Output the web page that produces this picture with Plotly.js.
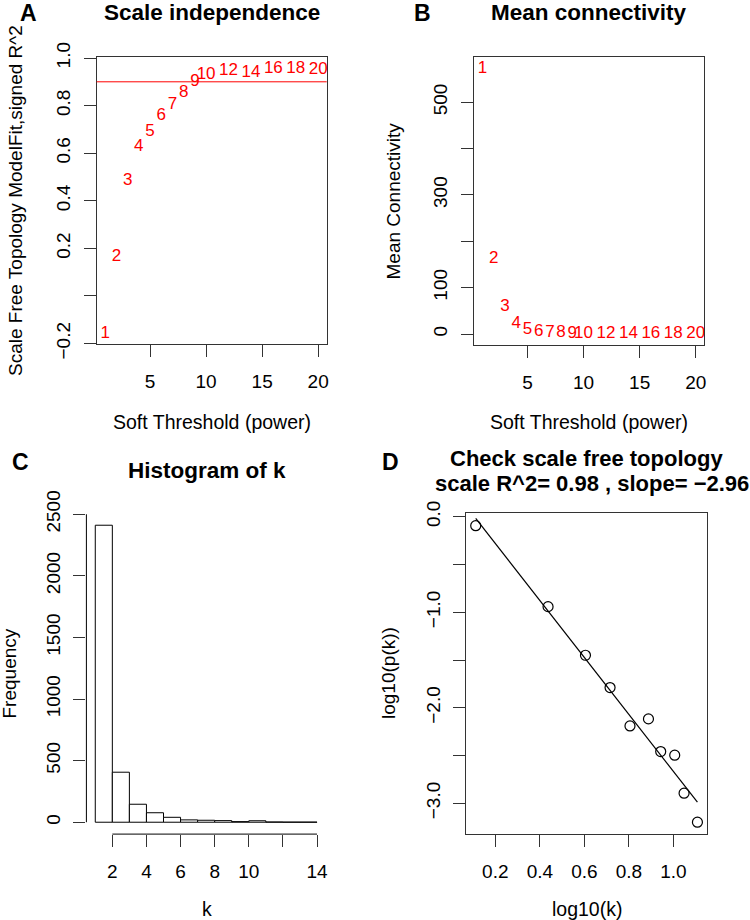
<!DOCTYPE html>
<html>
<head>
<meta charset="utf-8">
<script src="https://cdn.plot.ly/plotly-3.0.1.min.js"></script>
<style>html,body{margin:0;padding:0;background:#fff;}#chart{width:750px;height:920px;}</style>
</head>
<body>
<div id="chart"></div>
<script>
// ---- Data ----
const powers = [1, 2, 3, 4, 5, 6, 7, 8, 9, 10, 12, 14, 16, 18, 20];
const sftR2 = [-0.16, 0.166, 0.483, 0.627, 0.69, 0.757, 0.804, 0.853, 0.90, 0.931, 0.947, 0.94, 0.954, 0.957, 0.952];
const meanK = [572, 163, 59, 23, 10, 5, 3, 2, 1.2, 0.8, 0.4, 0.2, 0.1, 0.06, 0.04];
const r2Cutoff = 0.90;

const histBreaks = [1, 2, 3, 4, 5, 6, 7, 8, 9, 10, 11, 12, 13, 14];
const histCounts = [2411, 406, 146, 77, 40, 19, 16, 13, 5, 12, 2, 1, 1];

const logK = [0.112, 0.437, 0.605, 0.7155, 0.805, 0.888, 0.943, 1.006, 1.048, 1.108];
const logPk = [-0.094, -0.941, -1.45, -1.788, -2.19, -2.116, -2.458, -2.496, -2.894, -3.197];
const fitX = [0.112, 1.108];
const fitY = [-0.017, -2.988];

// tick labels
const aXTicks = [5, 10, 15, 20];
const aYTicks = [-0.2, 0, 0.2, 0.4, 0.6, 0.8, 1.0];
const aYText = ["\u22120.2", "", "0.2", "0.4", "0.6", "0.8", "1.0"];
const bYTicks = [0, 100, 200, 300, 400, 500];
const bYText = ["0", "100", "", "300", "", "500"];
const cXTicks = [2, 4, 6, 8, 10, 12, 14];
const cXText = ["2", "4", "6", "8", "10", "", "14"];
const cYTicks = [0, 500, 1000, 1500, 2000, 2500];
const dXTicks = [0.2, 0.4, 0.6, 0.8, 1.0];
const dXText = ["0.2", "0.4", "0.6", "0.8", "1.0"];
const dYTicks = [-3, -2.5, -2, -1.5, -1, -0.5, 0];
const dYText = ["\u22123.0", "", "\u22122.0", "", "\u22121.0", "", "0.0"];

// ---- Helpers ----
const W = 750, H = 920;
const FONT = "Liberation Sans, Arial, Helvetica, sans-serif";
const px = v => v / W;
const py = v => 1 - v / H;
const histMid = histCounts.map((c, i) => (histBreaks[i] + histBreaks[i + 1]) / 2);
const histW = histCounts.map((c, i) => histBreaks[i + 1] - histBreaks[i]);

function xax(domain, range, tickvals, ticktext, box, anchor) {
  return {
    domain: domain, range: range, anchor: anchor, tickmode: 'array', tickvals: tickvals,
    ticktext: ticktext || tickvals.map(String), ticks: 'outside', ticklen: 12, tickwidth: 1,
    tickcolor: '#333', showgrid: false, zeroline: false, showline: box, mirror: box,
    linecolor: '#333', linewidth: 1, ticklabelstandoff: 8,
    tickfont: {family: FONT, size: 19, color: '#000'}, fixedrange: true
  };
}
function yax(domain, range, tickvals, ticktext, box, anchor) {
  const a = xax(domain, range, tickvals, ticktext, box, anchor);
  a.tickangle = -90;
  a.ticklabelstandoff = 6;
  return a;
}

const traces = [
  {type: 'scatter', mode: 'text', x: powers, y: sftR2, text: powers.map(String),
   textposition: 'middle center', textfont: {family: FONT, size: 17, color: '#FF0000'},
   xaxis: 'x', yaxis: 'y', cliponaxis: false, hoverinfo: 'skip'},
  {type: 'scatter', mode: 'text', x: powers, y: meanK, text: powers.map(String),
   textposition: 'middle center', textfont: {family: FONT, size: 17, color: '#FF0000'},
   xaxis: 'x2', yaxis: 'y2', cliponaxis: false, hoverinfo: 'skip'},
  {type: 'bar', x: histMid, y: histCounts, width: histW,
   marker: {color: '#ffffff', line: {color: '#000', width: 1}},
   xaxis: 'x3', yaxis: 'y3', hoverinfo: 'skip'},
  {type: 'scatter', mode: 'lines', x: fitX, y: fitY, line: {color: '#000', width: 1.2},
   xaxis: 'x4', yaxis: 'y4', hoverinfo: 'skip'},
  {type: 'scatter', mode: 'markers', x: logK, y: logPk,
   marker: {symbol: 'circle-open', size: 10, color: '#000', line: {width: 1.2, color: '#000'}},
   xaxis: 'x4', yaxis: 'y4', cliponaxis: false, hoverinfo: 'skip'}
];

function ann(text, x, y, size, bold, angle) {
  return {text: bold ? '<b>' + text + '</b>' : text, x: px(x), y: py(y), xref: 'paper', yref: 'paper',
    xanchor: 'center', yanchor: 'middle', showarrow: false, textangle: angle || 0,
    font: {family: FONT, size: size, color: '#000'}};
}

const layout = {
  width: W, height: H, margin: {l: 0, r: 0, t: 0, b: 0},
  paper_bgcolor: '#fff', plot_bgcolor: '#fff', showlegend: false, bargap: 0,
  xaxis: xax([px(96.7), px(326.7)], [0.24, 20.76], aXTicks, null, true, 'y'),
  yaxis: yax([py(344.3), py(57.3)], [-0.203, 1.003], aYTicks, aYText, true, 'x'),
  xaxis2: xax([px(474), px(704.3)], [0.24, 20.76], aXTicks, null, true, 'y2'),
  yaxis2: yax([py(345), py(57.3)], [-23.7, 597], bYTicks, bYText, true, 'x2'),
  xaxis3: xax([px(86.4), px(325.9)], [0.48, 14.52], cXTicks, cXText, false, 'y3'),
  yaxis3: yax([py(834.1), py(513.4)], [-96.4, 2507], cYTicks, null, false, 'x3'),
  xaxis4: xax([px(466.3), px(707)], [0.0697, 1.151], dXTicks, dXText, true, 'y4'),
  yaxis4: yax([py(834.3), py(513.3)], [-3.324, 0.036], dYTicks, dYText, true, 'x4'),
  shapes: [
    {type: 'line', xref: 'x domain', x0: 0, x1: 1, yref: 'y', y0: r2Cutoff, y1: r2Cutoff,
     line: {color: '#FF0000', width: 1}},
    {type: 'line', xref: 'x3', x0: cXTicks[0], x1: cXTicks[cXTicks.length - 1], yref: 'y3 domain', y0: 0, y1: 0,
     line: {color: '#000', width: 1}},
    {type: 'line', xref: 'x3 domain', x0: 0, x1: 0, yref: 'y3', y0: cYTicks[0], y1: cYTicks[cYTicks.length - 1],
     line: {color: '#000', width: 1}}
  ],
  annotations: [
    ann('A', 28, 12.5, 23, true),
    ann('B', 422.5, 12.5, 23, true),
    ann('C', 20, 462, 23, true),
    ann('D', 390.7, 462.5, 23, true),
    ann('Scale independence', 211.7, 12.5, 22.5, true),
    ann('Mean connectivity', 589, 12.5, 22.5, true),
    ann('Histogram of k', 206.5, 470.5, 22.5, true),
    ann('Check scale free topology', 586.5, 458, 22, true),
    ann('scale R^2= 0.98 , slope= \u22122.96', 592, 483, 22, true),
    ann('Soft Threshold (power)', 211.7, 422, 19.5, false),
    ann('Soft Threshold (power)', 589, 422, 19.5, false),
    ann('k', 206.5, 909, 19.5, false),
    ann('log10(k)', 586.7, 908.5, 19.5, false),
    ann('Scale Free Topology ModelFit,signed R^2', 15, 201, 19, false, -90),
    ann('Mean Connectivity', 392.5, 201, 19, false, -90),
    ann('Frequency', 8.5, 674, 19, false, -90),
    ann('log10(p(k))', 388.5, 673.5, 19, false, -90)
  ]
};

Plotly.newPlot('chart', traces, layout, {displayModeBar: false, staticPlot: true});
</script>
</body>
</html>
